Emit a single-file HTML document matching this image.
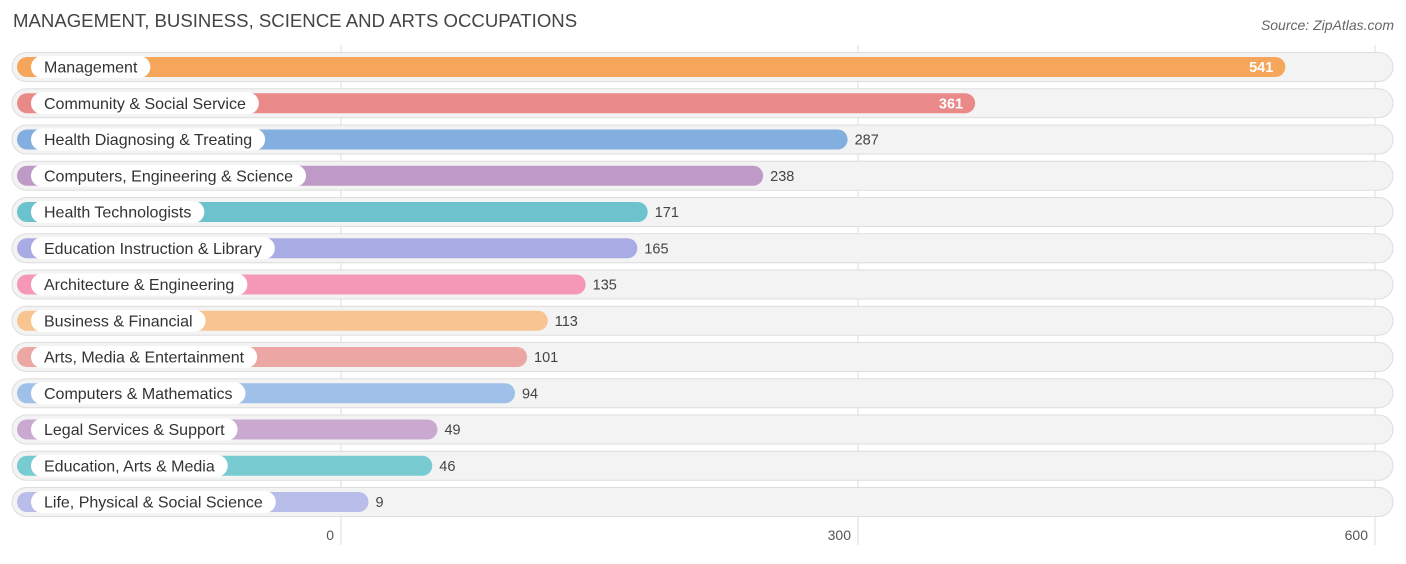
<!DOCTYPE html>
<html><head><meta charset="utf-8"><style>
body{margin:0;background:#fff;font-family:"Liberation Sans",sans-serif;}
</style></head><body>
<svg id="c" width="1406" height="559" xmlns="http://www.w3.org/2000/svg">
<text x="13" y="27" font-size="18.6" fill="#444">MANAGEMENT, BUSINESS, SCIENCE AND ARTS OCCUPATIONS</text>
<text x="1394" y="30" font-size="14" fill="#666" font-style="italic" text-anchor="end">Source: ZipAtlas.com</text>
<g id="grid"></g><g id="rows"></g><g id="ticks"></g>
</svg>
<script>
const categories=["Management","Community & Social Service","Health Diagnosing & Treating","Computers, Engineering & Science","Health Technologists","Education Instruction & Library","Architecture & Engineering","Business & Financial","Arts, Media & Entertainment","Computers & Mathematics","Legal Services & Support","Education, Arts & Media","Life, Physical & Social Science"];
const values=[541,361,287,238,171,165,135,113,101,94,49,46,9];
const colors=["#f5a65b","#e98a88","#82aee0","#bf9ac6","#6cc3ce","#a9ace4","#f598b8","#f8c48f","#eca7a4","#9fc0e8","#c9a9d0","#78cbd0","#b8bde9"];
const tickValues=[0,300,600];
const NS="http://www.w3.org/2000/svg";
const x=v=>341+v*517/300;
const rowY=i=>67+i*36.25;
function mk(tag,attrs,parent){const e=document.createElementNS(NS,tag);for(const k in attrs)e.setAttribute(k,attrs[k]);parent.appendChild(e);return e;}
const grid=document.getElementById('grid'),rows=document.getElementById('rows'),ticks=document.getElementById('ticks');
tickValues.forEach(t=>{
  const l=mk('line',{x1:x(t),x2:x(t),y1:45,y2:545,stroke:'#ddd','stroke-width':1},grid);
  
  
  const tx=mk('text',{x:x(t)-7,y:540,'font-size':14,fill:'#555','text-anchor':'end'},ticks);
  tx.textContent=t;
  
  
});
categories.forEach((c,i)=>{
  const cy=rowY(i);
  const g=mk('g',{},rows);
  
  
  mk('rect',{x:12,y:cy-14.5,width:1381,height:29,rx:14.5,fill:'#f3f3f3',stroke:'#ddd','stroke-width':1},g);
  const end=x(values[i])+12;
  const b=mk('rect',{x:17,y:cy-10,width:end-17,height:20,rx:10,fill:colors[i]},g);
  
  
  const p=mk('rect',{x:31,y:cy-11,width:100,height:22,rx:11,fill:'#fff'},g);
  
  
  const lt=mk('text',{x:44,y:cy+5.5,'font-size':16,fill:'#333'},g);
  lt.textContent=c;
  
  
  p.setAttribute('width',lt.getComputedTextLength()+26);
  const inside=values[i]>300;
  const vt=mk('text',{x:inside?end-12:end+7,y:cy+5,'font-size':14.5,fill:inside?'#fff':'#444','text-anchor':inside?'end':'start','font-weight':inside?'bold':'normal'},g);
  vt.textContent=values[i];
  
  
});
</script>
</body></html>
